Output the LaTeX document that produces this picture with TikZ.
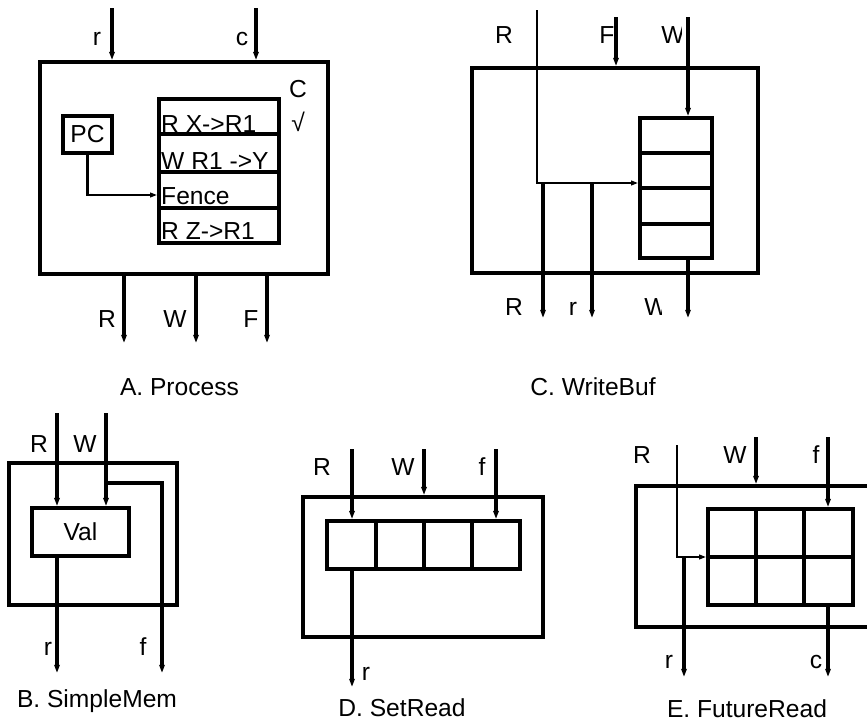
\documentclass[tikz,border=0pt]{standalone}
\usepackage{fontspec}
\setmainfont{Liberation Sans}
\usetikzlibrary{arrows.meta,fit}
\begin{document}
\begin{tikzpicture}[x=0.03cm,y=-0.03cm,
  thk/.style={line width=3.3pt},
  box/.style={draw,line width=3.3pt,inner sep=0pt},
  arr/.style={line width=3.3pt,-{Triangle[length=7pt,width=4.5pt]}},
  arrthin/.style={line width=2.4pt,-{Triangle[length=6pt,width=4pt]}},
  lbl/.style={font=\fontsize{21}{25}\selectfont,inner sep=0pt,anchor=base},
  ctr/.style={font=\fontsize{21}{25}\selectfont,inner sep=0pt,anchor=center},
  row/.style={font=\fontsize{21}{25}\selectfont,inner sep=0pt,anchor=base west},
  ]
\useasboundingbox (0,0) rectangle (867,721);
\clip (0,0) rectangle (867,721);

% ---------------- A. Process ----------------
\node[box,fit={(40,62)(328,274)}] (A) {};
\node[box,fit={(159,99)(279,243)}] (Abuf) {};
\foreach \yy in {134,172,208} \draw[thk] (Abuf.west |- 0,\yy) -- (Abuf.east |- 0,\yy);
\node[row] (a1) at (161,132) {R X->R1};
\node[row] (a2) at (161,169) {W R1 ->Y};
\node[row] (a3) at (161,204) {Fence};
\node[row] (a4) at (161,239) {R Z->R1};
\node[box,fit={(63,116)(112,153)}] (PC) {};
\node[ctr] (PCt) at (PC.center) {PC};
\draw[arrthin] (PC.south) |- (Abuf.west |- 0,195);
\coordinate (Ain1) at (112,8);
\coordinate (Ain2) at (256,8);
\draw[arr] (Ain1) -- (Ain1 |- A.north);
\draw[arr] (Ain2) -- (Ain2 |- A.north);
\node[lbl] (lAr) at (97,45) {r};
\node[lbl] (lAc) at (242,45) {c};
\node[lbl] (lAC) at (298,97) {C};
\node[lbl] (lAchk) at (298,131) {√};
\coordinate (Aout1) at (124,343);
\coordinate (Aout2) at (196,343);
\coordinate (Aout3) at (267,343);
\foreach \o in {Aout1,Aout2,Aout3} \draw[arr] (A.south -| \o) -- (\o);
\node[lbl] (lAR) at (107,327) {R};
\node[lbl] (lAW) at (175,327) {W};
\node[lbl] (lAF) at (251,327) {F};
\node[lbl] (capA) at (179.5,395) {A. Process};

% ---------------- C. WriteBuf ----------------
\node[box,fit={(472,68)(758,273)}] (C) {};
\node[box,fit={(640,118)(712,258)}] (Cbuf) {};
\foreach \yy in {153,188,224} \draw[thk] (Cbuf.west |- 0,\yy) -- (Cbuf.east |- 0,\yy);
\coordinate (CR) at (537,10);
\draw[arrthin] (CR) |- (Cbuf.west |- 0,183);
\coordinate (Co1) at (543,318);
\coordinate (Co2) at (592,318);
\draw[arr] (Co1 |- 0,183) -- (Co1);
\draw[arr] (Co2 |- 0,183) -- (Co2);
\coordinate (CF) at (616,17);
\coordinate (CW) at (688,17);
\coordinate (CWo) at (688,318);
\draw[arr] (CF) -- (CF |- C.north);
\draw[arr] (CW) -- (CW |- Cbuf.north);
\draw[arr] (Cbuf.south -| CWo) -- (CWo);
\node[lbl] (lCR) at (504,43) {R};
\node[lbl] (lCF) at (607,43) {F};
\begin{scope}
  \clip (600,0) rectangle (681,60);
  \node[lbl] (lCW) at (673,43) {W};
\end{scope}
\node[lbl] (lCR2) at (514,315) {R};
\node[lbl] (lCr) at (573,315) {r};
\begin{scope}
  \clip (600,280) rectangle (661,330);
  \node[lbl] (lCW2) at (656,315) {W};
\end{scope}
\node[lbl] (capC) at (593,395) {C. WriteBuf};

% ---------------- B. SimpleMem ----------------
\node[box,fit={(9,463)(177,605)}] (B) {};
\node[box,fit={(32,508)(129,556)}] (Val) {};
\node[ctr] (Valt) at (Val.center) {Val};
\coordinate (BR) at (57,413);
\coordinate (BW) at (106,413);
\coordinate (Br) at (57,673);
\coordinate (Bf) at (162,673);
\draw[arr] (BR) -- (BR |- Val.north);
\draw[arr] (BW) -- (BW |- Val.north);
\draw[arr] (BW |- 0,483) -| (Bf);
\draw[arr] (Val.south -| Br) -- (Br);
\node[lbl] (lBR) at (39,452) {R};
\node[lbl] (lBW) at (85,452) {W};
\node[lbl] (lBr) at (48,655) {r};
\node[lbl] (lBf) at (143,655) {f};
\node[lbl] (capB) at (97,707) {B. SimpleMem};

% ---------------- D. SetRead ----------------
\node[box,fit={(303,497)(543,637)}] (D) {};
\node[box,fit={(327,521)(520,569)}] (Dg) {};
\foreach \xx in {376,424,472} \draw[thk] (\xx,0 |- Dg.north) -- (\xx,0 |- Dg.south);
\coordinate (DR) at (352,449);
\coordinate (DW) at (424,449);
\coordinate (Df) at (496,449);
\coordinate (Dr) at (352,687);
\draw[arr] (DR) -- (DR |- Dg.north);
\draw[arr] (DW) -- (DW |- D.north);
\draw[arr] (Df) -- (Df |- Dg.north);
\draw[arr] (Dg.south -| Dr) -- (Dr);
\node[lbl] (lDR) at (322,475) {R};
\node[lbl] (lDW) at (403,475) {W};
\node[lbl] (lDf) at (482,475) {f};
\node[lbl] (lDr) at (366,680) {r};
\node[lbl] (capD) at (402,716) {D. SetRead};

% ---------------- E. FutureRead ----------------
\node[box,fit={(636,486)(900,627)}] (E) {};
\node[box,fit={(708,509)(853,605)}] (Eg) {};
\foreach \xx in {756,804} \draw[thk] (\xx,0 |- Eg.north) -- (\xx,0 |- Eg.south);
\draw[thk] (Eg.west |- 0,557) -- (Eg.east |- 0,557);
\coordinate (ER) at (677,445);
\coordinate (EW) at (756,437);
\coordinate (Ef) at (828,437);
\coordinate (Er) at (684,677);
\coordinate (Ec) at (828,677);
\draw[arrthin] (ER) |- (Eg.west |- 0,557);
\draw[arr] (Er |- 0,557) -- (Er);
\draw[arr] (EW) -- (EW |- E.north);
\draw[arr] (Ef) -- (Ef |- Eg.north);
\draw[arr] (Eg.south -| Ec) -- (Ec);
\node[lbl] (lER) at (642,463) {R};
\node[lbl] (lEW) at (735,463) {W};
\node[lbl] (lEf) at (816,463) {f};
\node[lbl] (lEr) at (669,668) {r};
\node[lbl] (lEc) at (816,668) {c};
\node[lbl] (capE) at (747,717) {E. FutureRead};
\end{tikzpicture}
\end{document}
